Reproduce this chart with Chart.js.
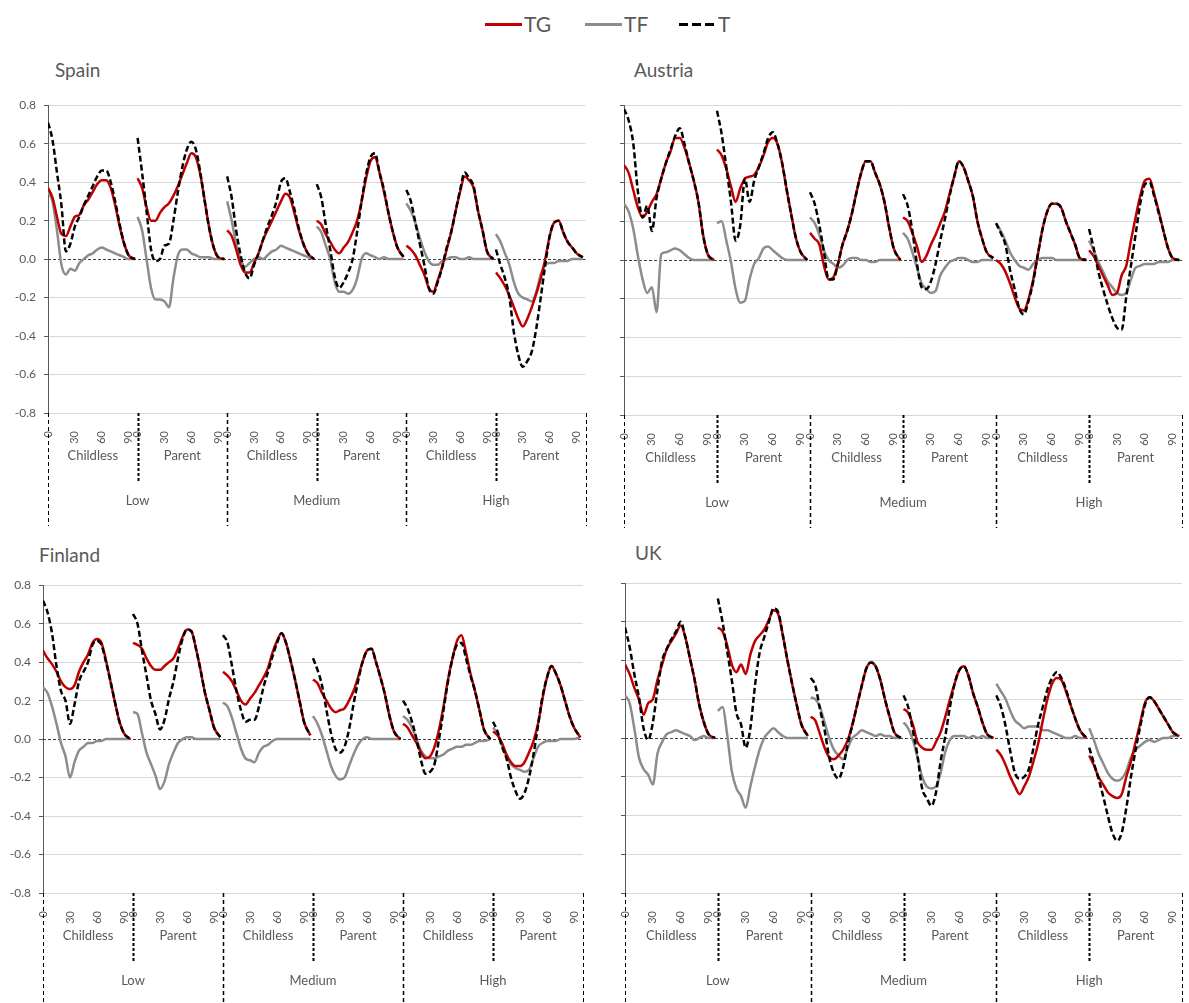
<!DOCTYPE html>
<html>
<head>
<meta charset="utf-8">
<script src="https://cdn.jsdelivr.net/npm/chart.js@4.4.0/dist/chart.umd.min.js"></script>
<style>
  body { margin: 0; width: 1189px; height: 1003px; overflow: hidden; background: #fff; position: relative; font-family: Lato, sans-serif; color: #595959; }
  canvas { position: absolute; }
  .title { position: absolute; font-size: 19px; line-height: 19px; white-space: nowrap; }
  .key { position: absolute; top: 23px; height: 3px; width: 37px; }
  .keytext { position: absolute; top: 13px; font-size: 21px; line-height: 21px; }
</style>
</head>
<body>
<div class="key" style="left:485px;background:#c00000"></div><div class="keytext" style="left:524px">TG</div>
<div class="key" style="left:585px;background:#8c8c8c"></div><div class="keytext" style="left:624px">TF</div>
<div class="key" style="left:679px;width:35px;background:repeating-linear-gradient(90deg,#000 0 9px,transparent 9px 13px)"></div><div class="keytext" style="left:718px">T</div>

<div class="title" style="left:55px;top:60px">Spain</div>
<div class="title" style="left:634px;top:60px">Austria</div>
<div class="title" style="left:39px;top:545px">Finland</div>
<div class="title" style="left:635px;top:543px">UK</div>

<canvas id="spain" width="600" height="440" style="left:0;top:90px"></canvas>
<canvas id="austria" width="620" height="440" style="left:576px;top:90px"></canvas>
<canvas id="finland" width="600" height="433" style="left:0;top:570px"></canvas>
<canvas id="uk" width="620" height="433" style="left:576px;top:570px"></canvas>

<script>
// age points sampled inside every Childless/Parent block
const ages = [0, 5, 10, 15, 20, 25, 30, 35, 40, 45, 50, 55, 60, 65, 70, 75, 80, 85, 90, 97];
const subgroups = ['Childless', 'Parent', 'Childless', 'Parent', 'Childless', 'Parent'];
const groups = ['Low', 'Medium', 'High'];
const xTicks = [0, 30, 60, 90];
const yTicks = [-0.8, -0.6, -0.4, -0.2, 0, 0.2, 0.4, 0.6, 0.8];

// one row per block: Low/Childless, Low/Parent, Medium/Childless, Medium/Parent, High/Childless, High/Parent
const spainTG = [
  [0.37,0.32,0.22,0.13,0.12,0.17,0.22,0.23,0.28,0.31,0.35,0.39,0.41,0.41,0.37,0.28,0.17,0.08,0.02,0.0],
  [0.42,0.37,0.27,0.2,0.2,0.24,0.27,0.29,0.33,0.38,0.44,0.5,0.55,0.53,0.44,0.3,0.16,0.06,0.01,0.0],
  [0.15,0.12,0.05,-0.03,-0.07,-0.07,-0.02,0.03,0.1,0.15,0.2,0.25,0.3,0.34,0.32,0.24,0.15,0.08,0.03,0.0],
  [0.2,0.18,0.13,0.09,0.05,0.03,0.06,0.09,0.14,0.2,0.3,0.42,0.51,0.53,0.45,0.35,0.24,0.14,0.06,0.01],
  [0.07,0.05,0.02,-0.03,-0.08,-0.15,-0.17,-0.11,-0.04,0.05,0.14,0.25,0.35,0.43,0.41,0.37,0.25,0.15,0.04,0.0],
  [-0.07,-0.1,-0.14,-0.19,-0.25,-0.31,-0.35,-0.31,-0.25,-0.18,-0.1,0.0,0.12,0.19,0.2,0.14,0.09,0.06,0.03,0.01]
];
const spainTF = [
  [0.35,0.3,0.15,-0.03,-0.08,-0.05,-0.06,-0.02,0.0,0.02,0.03,0.05,0.06,0.05,0.04,0.03,0.02,0.01,0.0,0.0],
  [0.22,0.15,0.0,-0.15,-0.21,-0.21,-0.22,-0.25,-0.1,0.02,0.05,0.05,0.03,0.02,0.01,0.01,0.01,0.0,0.0,0.0],
  [0.3,0.2,0.08,0.0,-0.04,-0.02,0.0,0.01,0.0,0.02,0.04,0.05,0.07,0.06,0.05,0.04,0.03,0.02,0.01,0.0],
  [0.17,0.14,0.07,0.0,-0.12,-0.17,-0.17,-0.18,-0.16,-0.1,0.0,0.03,0.02,0.01,0.0,0.01,0.0,0.0,0.0,0.0],
  [0.29,0.25,0.19,0.11,0.04,-0.01,-0.03,-0.03,-0.01,0.0,0.01,0.01,0.0,0.0,0.01,0.0,0.0,0.0,0.0,0.0],
  [0.13,0.09,0.03,-0.03,-0.12,-0.18,-0.2,-0.21,-0.22,-0.17,-0.08,-0.03,-0.02,-0.02,-0.01,-0.01,-0.01,0.0,0.0,0.0]
];
const spainT = [
  [0.71,0.62,0.45,0.28,0.04,0.08,0.17,0.22,0.28,0.33,0.38,0.43,0.46,0.46,0.4,0.3,0.18,0.08,0.02,0.0],
  [0.63,0.45,0.25,0.05,-0.01,0.0,0.07,0.08,0.2,0.35,0.48,0.57,0.61,0.57,0.45,0.3,0.16,0.06,0.01,0.0],
  [0.43,0.32,0.15,0.02,-0.07,-0.1,-0.03,0.03,0.1,0.17,0.23,0.3,0.4,0.42,0.35,0.26,0.16,0.08,0.03,0.0],
  [0.39,0.32,0.18,0.05,-0.09,-0.15,-0.12,-0.07,0.0,0.14,0.3,0.44,0.53,0.55,0.45,0.36,0.24,0.14,0.06,0.01],
  [0.36,0.3,0.19,0.08,-0.03,-0.15,-0.18,-0.12,-0.04,0.06,0.14,0.25,0.36,0.45,0.42,0.38,0.25,0.15,0.04,0.0],
  [0.05,-0.03,-0.1,-0.2,-0.38,-0.5,-0.56,-0.53,-0.48,-0.36,-0.2,-0.03,0.12,0.19,0.2,0.14,0.09,0.06,0.03,0.01]
];

const austriaTG = [
  [0.49,0.45,0.36,0.27,0.22,0.25,0.3,0.34,0.42,0.5,0.56,0.63,0.63,0.58,0.5,0.41,0.3,0.13,0.03,0.0],
  [0.57,0.54,0.47,0.38,0.3,0.37,0.42,0.43,0.44,0.48,0.54,0.61,0.63,0.6,0.5,0.36,0.23,0.11,0.04,0.0],
  [0.14,0.11,0.08,-0.03,-0.1,-0.09,-0.02,0.08,0.15,0.24,0.35,0.45,0.51,0.51,0.45,0.39,0.3,0.17,0.06,0.0],
  [0.22,0.2,0.14,0.07,-0.01,0.02,0.08,0.13,0.19,0.25,0.34,0.43,0.51,0.48,0.41,0.33,0.2,0.11,0.04,0.01],
  [0.0,-0.02,-0.06,-0.12,-0.19,-0.25,-0.26,-0.2,-0.1,0.03,0.16,0.25,0.29,0.29,0.27,0.2,0.14,0.08,0.01,0.0],
  [0.05,0.02,-0.03,-0.08,-0.13,-0.18,-0.17,-0.08,-0.03,0.1,0.22,0.33,0.41,0.42,0.34,0.25,0.15,0.06,0.01,0.0]
];
const austriaTF = [
  [0.29,0.25,0.16,0.02,-0.1,-0.17,-0.14,-0.27,0.03,0.04,0.05,0.06,0.05,0.03,0.01,0.0,0.0,0.0,0.0,0.0],
  [0.19,0.2,0.1,-0.01,-0.15,-0.22,-0.21,-0.1,-0.02,0.01,0.06,0.07,0.05,0.03,0.01,0.0,0.0,0.0,0.0,0.0],
  [0.22,0.19,0.13,0.05,0.0,-0.02,-0.04,-0.03,0.0,0.01,0.01,0.0,0.0,-0.01,-0.01,0.0,0.0,0.0,0.0,0.0],
  [0.14,0.11,0.04,-0.04,-0.12,-0.15,-0.17,-0.16,-0.08,-0.04,-0.01,0.0,0.01,0.01,0.0,-0.01,-0.01,0.0,0.0,0.0],
  [0.19,0.15,0.1,0.04,0.0,-0.03,-0.04,-0.05,-0.02,0.0,0.01,0.01,0.01,0.0,0.0,0.0,0.0,0.0,0.0,0.0],
  [0.1,0.05,-0.01,-0.06,-0.11,-0.14,-0.17,-0.18,-0.17,-0.1,-0.04,-0.03,-0.02,-0.02,-0.02,-0.01,-0.01,-0.01,0.0,0.0]
];
const austriaT = [
  [0.78,0.72,0.6,0.35,0.22,0.28,0.15,0.32,0.42,0.5,0.57,0.64,0.68,0.6,0.5,0.41,0.3,0.13,0.03,0.0],
  [0.77,0.65,0.48,0.3,0.1,0.18,0.42,0.3,0.41,0.48,0.55,0.63,0.66,0.6,0.5,0.36,0.23,0.11,0.04,0.0],
  [0.35,0.29,0.18,0.04,-0.1,-0.1,-0.02,0.08,0.15,0.24,0.35,0.45,0.51,0.51,0.45,0.39,0.3,0.17,0.06,0.0],
  [0.34,0.28,0.15,-0.02,-0.14,-0.15,-0.11,-0.02,0.1,0.21,0.33,0.43,0.51,0.48,0.41,0.33,0.2,0.11,0.04,0.01],
  [0.19,0.14,0.08,-0.05,-0.15,-0.25,-0.28,-0.21,-0.11,0.03,0.16,0.25,0.29,0.29,0.27,0.2,0.14,0.08,0.01,0.0],
  [0.16,0.06,-0.06,-0.15,-0.23,-0.3,-0.35,-0.36,-0.19,-0.03,0.13,0.29,0.39,0.4,0.33,0.24,0.15,0.06,0.01,0.0]
];

const finlandTG = [
  [0.46,0.42,0.39,0.35,0.3,0.27,0.26,0.28,0.35,0.4,0.44,0.5,0.52,0.5,0.41,0.3,0.19,0.09,0.03,0.0],
  [0.5,0.49,0.47,0.42,0.38,0.36,0.36,0.38,0.4,0.42,0.47,0.53,0.57,0.56,0.47,0.36,0.24,0.15,0.06,0.01],
  [0.35,0.33,0.3,0.25,0.2,0.18,0.21,0.24,0.28,0.32,0.37,0.45,0.51,0.55,0.5,0.41,0.31,0.2,0.09,0.02],
  [0.31,0.29,0.24,0.2,0.16,0.14,0.15,0.16,0.2,0.25,0.32,0.4,0.46,0.47,0.4,0.32,0.23,0.12,0.04,0.0],
  [0.08,0.06,0.02,-0.02,-0.07,-0.1,-0.09,-0.04,0.05,0.17,0.31,0.42,0.51,0.54,0.45,0.34,0.25,0.15,0.05,0.0],
  [0.04,0.02,-0.02,-0.08,-0.12,-0.14,-0.14,-0.12,-0.07,-0.01,0.08,0.21,0.32,0.38,0.34,0.28,0.2,0.12,0.06,0.01]
];
const finlandTF = [
  [0.27,0.24,0.17,0.08,-0.02,-0.09,-0.2,-0.12,-0.06,-0.04,-0.02,-0.02,-0.01,-0.01,0.0,0.0,0.0,0.0,0.0,0.0],
  [0.14,0.13,0.03,-0.07,-0.13,-0.19,-0.26,-0.22,-0.13,-0.07,-0.02,0.0,0.01,0.01,0.0,0.0,0.0,0.0,0.0,0.0],
  [0.19,0.17,0.11,0.03,-0.05,-0.1,-0.11,-0.12,-0.07,-0.04,-0.03,-0.01,0.0,0.0,0.0,0.0,0.0,0.0,0.0,0.0],
  [0.12,0.08,0.02,-0.06,-0.14,-0.19,-0.21,-0.2,-0.14,-0.08,-0.03,0.0,0.01,0.0,0.0,0.0,0.0,0.0,0.0,0.0],
  [0.12,0.1,0.06,0.0,-0.06,-0.09,-0.1,-0.1,-0.09,-0.08,-0.06,-0.05,-0.04,-0.04,-0.03,-0.03,-0.02,-0.01,-0.01,0.0],
  [0.06,0.03,-0.03,-0.09,-0.13,-0.15,-0.16,-0.17,-0.16,-0.1,-0.04,-0.02,-0.01,-0.01,-0.01,0.0,0.0,0.0,0.0,0.01]
];
const finlandT = [
  [0.72,0.66,0.55,0.38,0.25,0.2,0.08,0.18,0.3,0.35,0.4,0.49,0.51,0.49,0.4,0.3,0.19,0.09,0.03,0.0],
  [0.65,0.6,0.46,0.33,0.2,0.13,0.05,0.1,0.21,0.3,0.42,0.52,0.57,0.56,0.47,0.36,0.24,0.15,0.06,0.01],
  [0.54,0.5,0.38,0.25,0.15,0.09,0.1,0.1,0.17,0.27,0.35,0.43,0.5,0.55,0.5,0.41,0.31,0.2,0.09,0.02],
  [0.42,0.36,0.28,0.15,0.03,-0.05,-0.07,-0.04,0.05,0.18,0.3,0.4,0.46,0.47,0.4,0.32,0.23,0.12,0.04,0.0],
  [0.2,0.16,0.09,0.0,-0.11,-0.18,-0.17,-0.13,0.0,0.15,0.3,0.42,0.49,0.5,0.42,0.33,0.25,0.15,0.05,0.0],
  [0.09,0.04,-0.04,-0.1,-0.2,-0.27,-0.31,-0.28,-0.2,-0.08,0.07,0.22,0.32,0.38,0.34,0.28,0.2,0.12,0.06,0.01]
];

const ukTG = [
  [0.38,0.33,0.26,0.2,0.12,0.18,0.2,0.3,0.38,0.46,0.5,0.54,0.58,0.52,0.41,0.3,0.17,0.08,0.02,0.0],
  [0.57,0.55,0.48,0.38,0.34,0.38,0.33,0.43,0.5,0.53,0.56,0.61,0.66,0.64,0.53,0.4,0.28,0.17,0.07,0.01],
  [0.11,0.09,0.02,-0.05,-0.1,-0.11,-0.09,-0.06,-0.01,0.07,0.17,0.27,0.36,0.39,0.37,0.3,0.2,0.11,0.03,0.0],
  [0.15,0.13,0.07,-0.02,-0.05,-0.06,-0.06,-0.02,0.03,0.11,0.2,0.28,0.35,0.37,0.32,0.23,0.16,0.08,0.02,0.0],
  [-0.06,-0.09,-0.14,-0.2,-0.25,-0.29,-0.25,-0.2,-0.12,-0.03,0.09,0.2,0.28,0.31,0.3,0.24,0.17,0.1,0.04,0.0],
  [-0.09,-0.14,-0.2,-0.24,-0.28,-0.3,-0.31,-0.29,-0.2,-0.12,-0.02,0.08,0.18,0.21,0.19,0.15,0.11,0.07,0.03,0.01]
];
const ukTF = [
  [0.22,0.18,0.05,-0.1,-0.16,-0.19,-0.24,-0.08,-0.02,0.02,0.03,0.04,0.03,0.02,0.01,-0.01,0.0,0.01,0.0,0.0],
  [0.14,0.16,0.02,-0.17,-0.26,-0.3,-0.36,-0.25,-0.15,-0.06,0.0,0.03,0.05,0.03,0.01,0.0,0.0,0.0,0.0,0.0],
  [0.21,0.2,0.16,0.08,0.0,-0.06,-0.09,-0.11,-0.05,0.0,0.02,0.04,0.03,0.02,0.01,0.02,0.01,0.01,0.0,0.0],
  [0.08,0.05,-0.01,-0.1,-0.2,-0.25,-0.26,-0.25,-0.18,-0.07,-0.01,0.01,0.01,0.01,0.0,0.01,0.0,0.01,0.0,0.0],
  [0.28,0.24,0.2,0.14,0.09,0.07,0.05,0.06,0.06,0.06,0.04,0.04,0.03,0.02,0.01,0.0,0.0,0.01,0.0,0.0],
  [0.05,-0.01,-0.08,-0.13,-0.18,-0.21,-0.22,-0.21,-0.17,-0.1,-0.06,-0.04,-0.02,-0.01,-0.02,-0.01,0.0,0.0,0.01,0.01]
];
const ukT = [
  [0.57,0.47,0.33,0.21,0.05,-0.01,0.08,0.25,0.4,0.46,0.51,0.55,0.6,0.52,0.41,0.3,0.17,0.08,0.02,0.0],
  [0.72,0.6,0.45,0.3,0.13,0.07,-0.05,0.05,0.27,0.44,0.52,0.6,0.67,0.65,0.53,0.4,0.28,0.17,0.07,0.01],
  [0.31,0.27,0.15,0.04,-0.1,-0.18,-0.21,-0.15,-0.03,0.07,0.17,0.27,0.36,0.39,0.37,0.3,0.2,0.11,0.03,0.0],
  [0.22,0.16,0.04,-0.09,-0.26,-0.31,-0.35,-0.28,-0.12,0.01,0.16,0.28,0.35,0.37,0.32,0.23,0.16,0.08,0.02,0.0],
  [0.22,0.16,0.06,-0.07,-0.18,-0.21,-0.2,-0.16,-0.05,0.07,0.16,0.25,0.31,0.34,0.31,0.25,0.17,0.1,0.04,0.0],
  [-0.05,-0.13,-0.21,-0.3,-0.4,-0.49,-0.53,-0.49,-0.36,-0.2,-0.06,0.06,0.17,0.21,0.19,0.15,0.11,0.07,0.03,0.01]
];

const SEG = 100; // width of one Childless/Parent block on the x scale

Chart.defaults.font.family = 'Lato, sans-serif';
Chart.defaults.color = '#595959';

function toPoints(blocks) {
  const pts = [];
  blocks.forEach((vals, s) => {
    vals.forEach((v, i) => pts.push({ x: s * SEG + ages[i], y: v }));
    pts.push({ x: s * SEG + 98, y: null }); // break the line between blocks
  });
  return pts;
}

// zero reference line, block labels and the dashed separators under the axis
const blocksPlugin = {
  id: 'blocks',
  beforeDatasetsDraw(chart) {
    const { ctx, chartArea: a, scales: { y } } = chart;
    const yz = Math.round(y.getPixelForValue(0)) + 0.5;
    ctx.save();
    ctx.strokeStyle = '#404040';
    ctx.lineWidth = 1;
    ctx.setLineDash([3, 2]);
    ctx.beginPath();
    ctx.moveTo(a.left, yz);
    ctx.lineTo(a.right, yz);
    ctx.stroke();
    ctx.restore();
  },
  afterDraw(chart) {
    const { ctx, chartArea: a, scales: { x } } = chart;
    const b = a.bottom;
    ctx.save();
    ctx.fillStyle = '#595959';
    ctx.font = '13px Lato, sans-serif';
    ctx.textAlign = 'center';
    ctx.textBaseline = 'middle';
    subgroups.forEach((name, i) => ctx.fillText(name, x.getPixelForValue(i * SEG + SEG / 2), b + 43));
    groups.forEach((name, g) => ctx.fillText(name, x.getPixelForValue(g * 2 * SEG + SEG), b + 88));

    ctx.strokeStyle = '#000';
    for (let i = 0; i <= 6; i++) {
      const px = Math.round(x.getPixelForValue(i * SEG)) + 0.5;
      ctx.beginPath();
      if (i % 2 === 1) {
        ctx.lineWidth = 2;
        ctx.setLineDash([3, 2]);
        ctx.moveTo(px, b);
        ctx.lineTo(px, b + 70);
      } else {
        ctx.lineWidth = (i === 0 || i === 6) ? 1 : 1.5;
        ctx.setLineDash([4, 3]);
        ctx.moveTo(px, b);
        ctx.lineTo(px, b + 113);
      }
      ctx.stroke();
    }
    ctx.restore();
  }
};

function makePanel(id, box, area, tg, tf, t, showY) {
  const canvas = document.getElementById(id);
  const line = { pointRadius: 0, borderWidth: 2.5, spanGaps: false, cubicInterpolationMode: 'monotone' };
  return new Chart(canvas, {
    type: 'line',
    data: {
      datasets: [
        { ...line, label: 'T', data: toPoints(t), borderColor: '#000', borderDash: [6, 3], order: 0 },
        { ...line, label: 'TG', data: toPoints(tg), borderColor: '#c00000', order: 1 },
        { ...line, label: 'TF', data: toPoints(tf), borderColor: '#8c8c8c', order: 2 },
      ],
    },
    options: {
      responsive: false,
      animation: false,
      layout: { padding: { top: area.top - box.top, right: box.left + box.width - area.right, left: 0, bottom: 0 } },
      plugins: { legend: { display: false }, tooltip: { enabled: false } },
      scales: {
        x: {
          type: 'linear',
          min: 0,
          max: 6 * SEG,
          afterBuildTicks: axis => {
            axis.ticks = [];
            for (let s = 0; s < 6; s++) xTicks.forEach(v => axis.ticks.push({ value: s * SEG + v }));
          },
          afterFit: axis => { axis.height = box.top + box.height - area.bottom; },
          grid: { display: false },
          border: { display: false },
          ticks: {
            autoSkip: false, minRotation: 90, maxRotation: 90, padding: 10,
            font: { size: 11 }, color: '#595959',
            callback: v => String(Math.round(v) % SEG),
          },
        },
        y: {
          min: -0.8,
          max: 0.8,
          afterBuildTicks: axis => { axis.ticks = yTicks.map(v => ({ value: v })); },
          afterFit: axis => { axis.width = area.left - box.left; },
          grid: {
            color: c => (Math.abs(c.tick.value) < 1e-9 ? 'rgba(0,0,0,0)' : '#d9d9d9'),
            tickColor: '#595959',
            tickLength: 4,
          },
          border: { color: '#595959' },
          ticks: {
            display: showY, padding: 8, font: { size: 12 }, color: '#595959',
            callback: v => (Math.abs(v) < 1e-9 ? '0.0' : v.toFixed(1)),
          },
        },
      },
    },
    plugins: [blocksPlugin],
  });
}

makePanel('spain',   { left: 0,   top: 90,  width: 600, height: 440 }, { left: 48,  right: 588, top: 105, bottom: 413 }, spainTG, spainTF, spainT, true);
makePanel('austria', { left: 576, top: 90,  width: 620, height: 440 }, { left: 624, right: 1194, top: 105, bottom: 415 }, austriaTG, austriaTF, austriaT, false);
makePanel('finland', { left: 0,   top: 570, width: 600, height: 433 }, { left: 43,  right: 583, top: 584, bottom: 893 }, finlandTG, finlandTF, finlandT, true);
makePanel('uk',      { left: 576, top: 570, width: 620, height: 433 }, { left: 625, right: 1194, top: 583, bottom: 893 }, ukTG, ukTF, ukT, false);
</script>
</body>
</html>
